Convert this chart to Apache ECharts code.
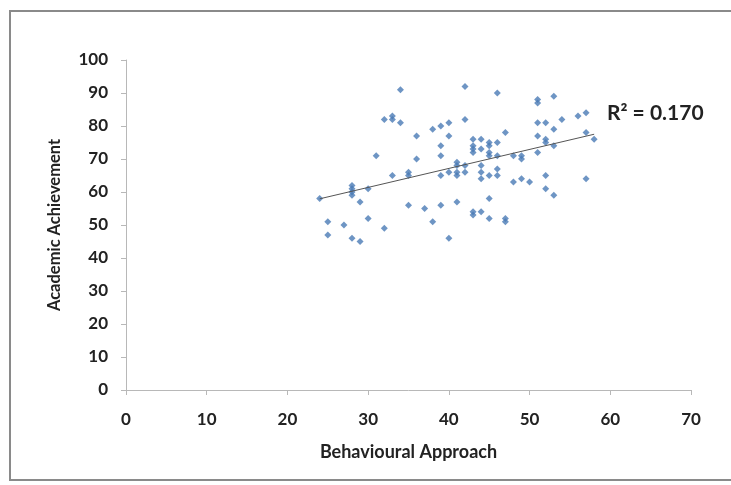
<!DOCTYPE html>
<html>
<head>
<meta charset="utf-8">
<script src="https://cdn.jsdelivr.net/npm/echarts@6/dist/echarts.min.js"></script>
<style>
html,body{margin:0;padding:0;background:#fff;}
#chart{width:731px;height:485px;}
</style>
</head>
<body>
<div id="chart"></div>
<script>
const xTitle = 'Behavioural Approach';
const yTitle = 'Academic Achievement';
const r2Label = 'R² = 0.170';

const behaviouralApproach = [
  24,25,25,27,28,28,28,28,28,29,29,30,30,31,32,32,33,33,33,34,34,35,35,35,36,36,37,38,38,
  39,39,39,39,39,40,40,40,40,41,41,41,41,41,42,42,42,42,43,43,43,43,43,43,44,44,44,44,44,44,
  45,45,45,45,45,45,45,46,46,46,46,46,47,47,47,48,48,49,49,49,50,51,51,51,51,51,52,52,52,52,52,
  53,53,53,53,54,56,57,57,57,58
];
const academicAchievement = [
  58,51,47,50,62,61,60,59,46,57,45,61,52,71,82,49,83,82,65,81,91,66,65,56,77,70,55,79,51,
  80,74,71,65,56,81,77,66,46,69,68,66,65,57,92,82,68,66,76,74,73,72,54,53,76,73,68,66,64,54,
  75,74,72,71,65,58,52,90,75,71,67,65,78,52,51,71,63,71,70,64,63,88,87,81,77,72,81,76,75,65,61,
  89,79,74,59,82,83,84,78,64,76
];

const points = behaviouralApproach.map((x, i) => [x, academicAchievement[i]]);

// least-squares linear trend line (as in the original's trendline)
const n = points.length;
let sx = 0, sy = 0, sxx = 0, sxy = 0;
points.forEach(([x, y]) => { sx += x; sy += y; sxx += x * x; sxy += x * y; });
const slope = (n * sxy - sx * sy) / (n * sxx - sx * sx);
const intercept = (sy - slope * sx) / n;
const xMin = Math.min(...behaviouralApproach);
const xMax = Math.max(...behaviouralApproach);
const trend = [[xMin, intercept + slope * xMin], [xMax, intercept + slope * xMax]];

const font = 'Lato, "Open Sans", sans-serif';
const chart = echarts.init(document.getElementById('chart'));
chart.setOption({
  animation: false,
  backgroundColor: '#fff',
  grid: { left: 126, right: 40, top: 60, bottom: 95 },
  xAxis: {
    type: 'value', min: 0, max: 70, interval: 10,
    name: xTitle, nameLocation: 'middle', nameGap: 53,
    nameTextStyle: { fontFamily: font, fontWeight: 'bold', fontSize: 18, color: '#222' },
    axisLine: { show: true, lineStyle: { color: '#b8b8b8', width: 1 } },
    axisTick: { show: true, length: 5, lineStyle: { color: '#b8b8b8' } },
    axisLabel: { fontFamily: font, fontWeight: 'bold', fontSize: 17, color: '#222', margin: 21 },
    splitLine: { show: false }
  },
  yAxis: {
    type: 'value', min: 0, max: 100, interval: 10,
    name: yTitle, nameLocation: 'middle', nameGap: 63, nameRotate: 90,
    nameTextStyle: { fontFamily: font, fontWeight: 'bold', fontSize: 16.5, color: '#222' },
    axisLine: { show: true, lineStyle: { color: '#b8b8b8', width: 1 } },
    axisTick: { show: true, length: 5, lineStyle: { color: '#b8b8b8' } },
    axisLabel: { fontFamily: font, fontWeight: 'bold', fontSize: 17, color: '#222', margin: 18 },
    splitLine: { show: false }
  },
  series: [
    {
      type: 'scatter', data: points, symbol: 'diamond', symbolSize: 7,
      itemStyle: { color: '#4a7ab5' }, z: 3
    },
    {
      type: 'line', data: trend, symbol: 'none',
      lineStyle: { color: '#555', width: 1 }, z: 4
    }
  ],
  graphic: [
    { type: 'rect', shape: { x: 10, y: 11, width: 800, height: 469 },
      style: { fill: 'none', stroke: '#8a8a8a', lineWidth: 2 }, silent: true },
    { type: 'text', left: 607, top: 103,
      style: { text: r2Label, font: 'bold 21px ' + font, fill: '#222' } }
  ]
});
</script>
</body>
</html>
